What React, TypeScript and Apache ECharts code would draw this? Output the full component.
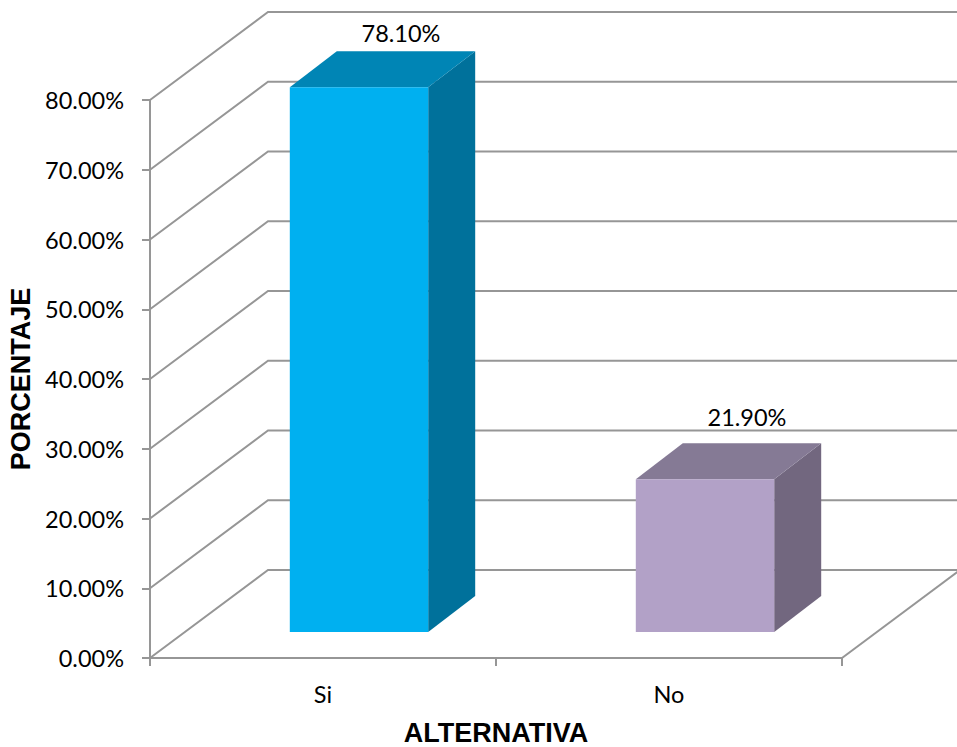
import React, { useEffect, useRef } from "react";
import * as echarts from "echarts";

const categories = ["Si", "No"];
const percentages = [78.1, 21.9];
const gridTicks = [0, 10, 20, 30, 40, 50, 60, 70, 80];
const frontColors = ["#00B0F0", "#B2A1C7"];
const topColors = ["#0085B5", "#857A95"];
const sideColors = ["#00719B", "#72677F"];
const labelLift = [54, 62];

const LINE = "#969696";
const WALL_DX = 118;
const WALL_DY = 88;
const BAR_DX = 47;
const BAR_DY = 36;
const BAR_SHIFT_X = 36;
const BAR_SHIFT_Y = 26;
const CANVAS_W = 957;
const fmt = (v: number) => v.toFixed(2) + "%";

export default function App() {
  const ref = useRef<HTMLDivElement>(null);
  useEffect(() => {
    const chart = echarts.init(ref.current!, null, { renderer: "svg" });
    chart.setOption({
      animation: false,
      backgroundColor: "#ffffff",
      grid: { left: 150, right: 115, top: 100, bottom: 89, outerBoundsMode: "none" },
      xAxis: {
        type: "category",
        data: categories,
        name: "ALTERNATIVA",
        nameLocation: "middle",
        nameGap: 61,
        nameTextStyle: { fontFamily: "Liberation Sans", fontWeight: "bold", fontSize: 27, color: "#000" },
        axisLine: { show: true, lineStyle: { color: LINE, width: 2 } },
        axisTick: { show: true, alignWithLabel: false, length: 8, lineStyle: { color: LINE, width: 2 } },
        axisLabel: { fontFamily: "Lato", fontSize: 23.5, color: "#000", margin: 24 },
        splitLine: { show: false },
      },
      yAxis: {
        type: "value",
        min: 0,
        max: 80,
        interval: 10,
        name: "PORCENTAJE",
        nameLocation: "middle",
        nameGap: 114,
        nameTextStyle: { fontFamily: "Liberation Sans", fontWeight: "bold", fontSize: 27, color: "#000" },
        axisLine: { show: true, lineStyle: { color: LINE, width: 2 } },
        axisTick: { show: true, length: 8, lineStyle: { color: LINE, width: 2 } },
        axisLabel: { fontFamily: "Lato", fontSize: 23.5, color: "#000", margin: 26, formatter: fmt },
        splitLine: { show: false },
      },
      series: [
        {
          type: "custom",
          silent: true,
          z: 1,
          data: gridTicks.map((v) => [0, v]),
          renderItem: (params: any, api: any) => {
            const y = api.coord([0, api.value(1)])[1];
            const x0 = params.coordSys.x;
            const shape = { points: [[x0, y], [x0 + WALL_DX, y - WALL_DY], [CANVAS_W + 4, y - WALL_DY]] };
            return { type: "polyline", shape, style: { stroke: LINE, lineWidth: 2, fill: "none" } };
          },
        },
        {
          type: "custom",
          silent: true,
          z: 1,
          data: [[1, 0]],
          renderItem: (params: any) => {
            const { x, y, width, height } = params.coordSys;
            const shape = { x1: x + width, y1: y + height, x2: x + width + WALL_DX, y2: y + height - WALL_DY };
            return { type: "line", shape, style: { stroke: LINE, lineWidth: 2 } };
          },
        },
        {
          type: "custom",
          silent: true,
          z: 5,
          data: percentages.map((v, i) => [i, v]),
          renderItem: (_: any, api: any) => {
            const i = api.value(0);
            const v = api.value(1);
            const top = api.coord([i, v]);
            const base = api.coord([i, 0]);
            const w = api.size([1, 0])[0] * 0.4;
            const l = top[0] + BAR_SHIFT_X - w / 2;
            const r = l + w;
            const t = top[1] - BAR_SHIFT_Y;
            const b = base[1] - BAR_SHIFT_Y;
            return {
              type: "group",
              children: [
                {
                  type: "polygon",
                  shape: { points: [[r, t], [r + BAR_DX, t - BAR_DY], [r + BAR_DX, b - BAR_DY], [r, b]] },
                  style: { fill: sideColors[i] },
                },
                {
                  type: "polygon",
                  shape: { points: [[l, t], [l + BAR_DX, t - BAR_DY], [r + BAR_DX, t - BAR_DY], [r, t]] },
                  style: { fill: topColors[i] },
                },
                { type: "rect", shape: { x: l, y: t, width: w, height: b - t }, style: { fill: frontColors[i] } },
                {
                  type: "text",
                  style: {
                    text: fmt(v),
                    x: l + w / 2 + 42,
                    y: t - labelLift[i],
                    fill: "#000",
                    font: '23.5px "Lato"',
                    textAlign: "center",
                    textVerticalAlign: "middle",
                  },
                },
              ],
            };
          },
        },
      ],
    });
    return () => chart.dispose();
  }, []);
  return <div ref={ref} style={{ position: "fixed", left: 0, top: 0, width: 957, height: 747 }} />;
}
